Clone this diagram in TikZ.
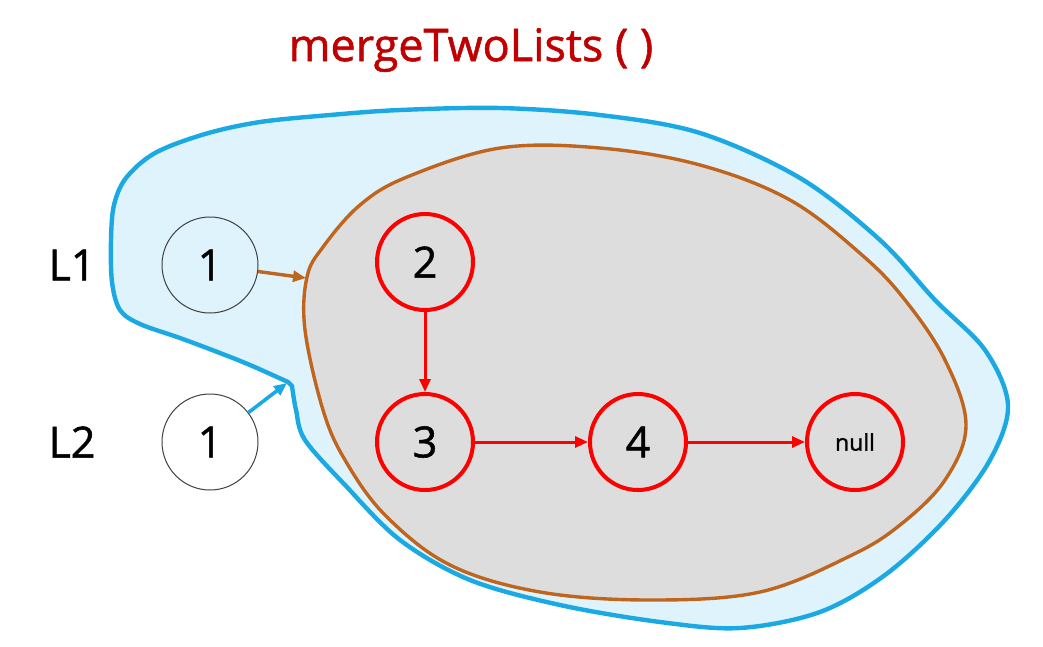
\documentclass[tikz,border=0pt]{standalone}
\usepackage{fontspec}
\setmainfont{Open Sans}
\newfontfamily\medfont[FakeBold=1.2]{Open Sans}
\usetikzlibrary{arrows.meta}
\definecolor{blueline}{HTML}{1BA9E4}
\definecolor{bluefill}{HTML}{DFF3FC}
\definecolor{brownline}{HTML}{C0651E}
\definecolor{grayfill}{HTML}{DCDDDC}
\definecolor{titlered}{HTML}{C00000}
\definecolor{nodered}{HTML}{FF0000}
\tikzset{
  plainnode/.style={circle,draw=black!75,line width=1pt,minimum size=96pt,inner sep=0pt,font=\medfont\fontsize{43}{46}\selectfont},
  rednode/.style={circle,draw=nodered,line width=4pt,minimum size=96pt,inner sep=0pt,font=\medfont\fontsize{43}{46}\selectfont},
  redarrow/.style={draw=nodered,line width=3pt,-{Triangle[length=13pt,width=11pt]}},
  brownarrow/.style={draw=brownline,line width=3.4pt,-{Triangle[length=13pt,width=11pt]}},
  bluearrow/.style={draw=blueline,line width=3.6pt,-{Triangle[length=13pt,width=11pt]}},
  listlabel/.style={font=\medfont\fontsize{43}{46}\selectfont},
}
\begin{document}
\begin{tikzpicture}[x=1pt,y=-1pt]
\useasboundingbox (0,0) rectangle (1043,646);
% blue region
\filldraw[fill=bluefill,draw=blueline,line width=4.4pt,line join=round]
  plot[smooth,tension=0.55] coordinates {
   (288,382) (250,365) (220,353) (180,338) (140,324) (120,310) (112,282)
   (111,240) (114,205) (126,178) (155,153) (205,134) (260,122) (330,115) (400,110)
   (500,108) (600,115) (700,133) (800,178) (880,240) (935,300) (985,350)
   (1008,405) (990,460) (945,520) (885,575) (820,612) (740,628) (660,622)
   (560,605) (470,580) (400,540) (345,485) (305,440) (296,410) (292,386)}
  -- cycle;
% brown region
\filldraw[fill=grayfill,draw=brownline,line width=3.4pt,line join=round]
  plot[smooth cycle,tension=0.6] coordinates {
   (307,277) (323,247) (360,205) (407,177) (500,148) (600,148)
   (700,165) (790,200) (862,255) (905,300) (945,360) (966,425)
   (945,480) (900,525) (850,556) (760,592) (650,600) (540,592)
   (450,565) (385,515) (345,460) (323,410) (305,330)};
\coordinate (brownin) at (306,278);
\coordinate (cusp) at (287,383);
% title
\node[font=\medfont\fontsize{45}{50}\selectfont,text=titlered] (title) at (471,50) {mergeTwoLists ( )};
% labels
\node[listlabel] (L1) at (72,265) {L1};
\node[listlabel] (L2) at (72,442) {L2};
% nodes
\node[plainnode] (a1) at (210,265) {1};
\node[plainnode] (a2) at (210,442) {1};
\node[rednode] (n2) at (425,262) {2};
\node[rednode] (n3) at (425,442) {3};
\node[rednode] (n4) at (638,442) {4};
\node[rednode,font=\medfont\fontsize{23}{26}\selectfont] (nul) at (855,442) {null};
% connectors
\draw[redarrow] (n2) -- (n3);
\draw[redarrow] (n3) -- (n4);
\draw[redarrow] (n4) -- (nul);
\draw[brownarrow] (a1) -- (brownin);
\draw[bluearrow] (a2) -- (cusp);
\end{tikzpicture}
\end{document}
